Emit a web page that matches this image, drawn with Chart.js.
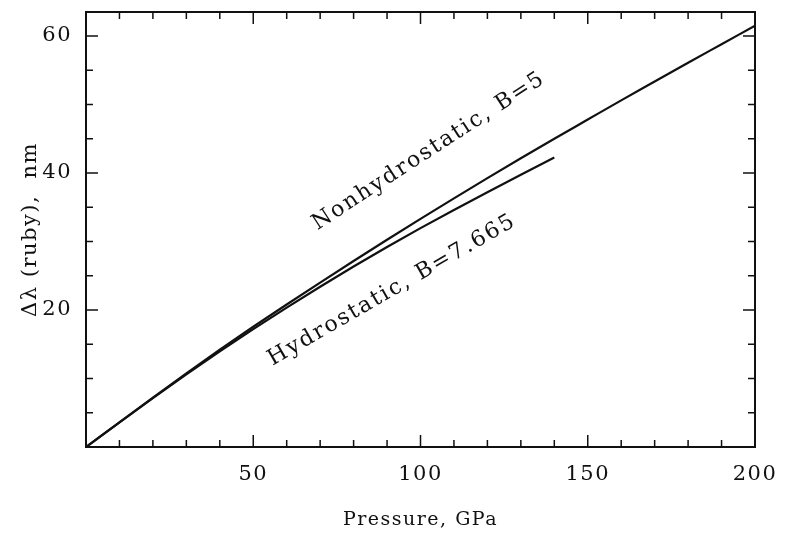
<!DOCTYPE html>
<html>
<head>
<meta charset="utf-8">
<script src="https://cdn.jsdelivr.net/npm/chart.js@4.4.1/dist/chart.umd.min.js"></script>
<style>
  html, body { margin: 0; padding: 0; background: #ffffff; }
  #wrap { width: 793px; height: 539px; }
</style>
</head>
<body>
<div id="wrap"><canvas id="c" width="793" height="539"></canvas></div>
<script>
// ---- Data ----
const nonhydroPressure = [0, 10, 20, 30, 40, 50, 60, 70, 80, 90, 100, 110, 120, 130, 140, 150, 160, 170, 180, 190, 200];
const nonhydroShift    = [0, 3.6, 7.2, 10.75, 14.2, 17.55, 20.8, 24.0, 27.15, 30.25, 33.3, 36.3, 39.25, 42.15, 45.0, 47.8, 50.6, 53.35, 56.1, 58.8, 61.5];
const hydroPressure    = [0, 10, 20, 30, 40, 50, 60, 70, 80, 90, 100, 110, 120, 130, 140];
const hydroShift       = [0, 3.6, 7.15, 10.6, 13.95, 17.2, 20.35, 23.4, 26.35, 29.2, 31.95, 34.6, 37.2, 39.75, 42.25];
const xTickLabels = [50, 100, 150, 200];
const yTickLabels = [20, 40, 60];
const seriesNames = ['Nonhydrostatic, B=5', 'Hydrostatic, B=7.665'];
// label anchor points (data units) and angles (degrees)
const labelAt = [ {x: 102.5, y: 43.2, angle: -33}, {x: 91.5, y: 22.9, angle: -30} ];

const FONT = "'DejaVu Serif', 'Liberation Serif', serif";

const spacing = {
  id: 'spacing',
  beforeDraw(chart) { chart.ctx.letterSpacing = '1.5px'; }
};

const axisDecor = {
  id: 'axisDecor',
  afterDatasetsDraw(chart) {
    const ctx = chart.ctx;
    const a = chart.chartArea;
    const xs = chart.scales.x, ys = chart.scales.y;
    ctx.save();
    ctx.strokeStyle = '#111';
    ctx.lineWidth = 2;
    ctx.strokeRect(a.left, a.top, a.right - a.left, a.bottom - a.top);
    ctx.lineWidth = 1.5;
    ctx.beginPath();
    for (let v = 10; v < 200; v += 10) {
      const px = xs.getPixelForValue(v);
      const len = (v % 50 === 0) ? 12 : 7;
      ctx.moveTo(px, a.bottom); ctx.lineTo(px, a.bottom - len);
      ctx.moveTo(px, a.top); ctx.lineTo(px, a.top + len);
    }
    for (let v = 5; v < 63; v += 5) {
      const py = ys.getPixelForValue(v);
      const len = (v % 20 === 0) ? 12 : 7;
      ctx.moveTo(a.left, py); ctx.lineTo(a.left + len, py);
      ctx.moveTo(a.right, py); ctx.lineTo(a.right - len, py);
    }
    ctx.stroke();
    // series labels
    ctx.fillStyle = '#111';
    ctx.font = "22px " + FONT;
    ctx.letterSpacing = '2px';
    ctx.textAlign = 'center';
    ctx.textBaseline = 'middle';
    labelAt.forEach((l, i) => {
      ctx.save();
      ctx.translate(xs.getPixelForValue(l.x), ys.getPixelForValue(l.y));
      ctx.rotate(l.angle * Math.PI / 180);
      ctx.fillText(seriesNames[i], 0, 0);
      ctx.restore();
    });
    ctx.restore();
  }
};

new Chart(document.getElementById('c'), {
  type: 'line',
  data: {
    datasets: [
      {
        label: seriesNames[0],
        data: nonhydroPressure.map((p, i) => ({x: p, y: nonhydroShift[i]})),
        borderColor: '#111', borderWidth: 2.2, pointRadius: 0,
        cubicInterpolationMode: 'monotone', fill: false
      },
      {
        label: seriesNames[1],
        data: hydroPressure.map((p, i) => ({x: p, y: hydroShift[i]})),
        borderColor: '#111', borderWidth: 2.2, pointRadius: 0,
        cubicInterpolationMode: 'monotone', fill: false
      }
    ]
  },
  options: {
    responsive: false,
    animation: false,
    layout: { padding: { top: 0, right: 38, left: 0, bottom: 0 } },
    plugins: { legend: { display: false }, tooltip: { enabled: false } },
    scales: {
      x: {
        type: 'linear', min: 0, max: 200,
        grid: { display: false, drawTicks: false },
        border: { display: false },
        ticks: {
          padding: 15, color: '#111', maxRotation: 0,
          font: { family: FONT, size: 21 },
          callback: v => xTickLabels.includes(v) ? String(v) : ''
        },
        afterBuildTicks: s => { s.ticks = [0].concat(xTickLabels).map(v => ({ value: v })); },
        title: {
          display: true, text: 'Pressure, GPa', color: '#111',
          font: { family: FONT, size: 19 }, padding: { top: 0, bottom: 8 }
        },
        afterFit: s => { s.height = 92; }
      },
      y: {
        type: 'linear', min: 0, max: 63.5,
        grid: { display: false, drawTicks: false },
        border: { display: false },
        ticks: {
          padding: 14, color: '#111',
          font: { family: FONT, size: 21 },
          callback: v => yTickLabels.includes(v) ? String(v) : ''
        },
        afterBuildTicks: s => { s.ticks = yTickLabels.map(v => ({ value: v })); },
        title: {
          display: true, text: 'Δλ (ruby),  nm', color: '#111',
          font: { family: FONT, size: 21 }, padding: { top: 18, bottom: 0 }
        },
        afterFit: s => { s.width = 86; s.paddingTop = 12; s.paddingBottom = 0; }
      }
    }
  },
  plugins: [spacing, axisDecor]
});
</script>
</body>
</html>
